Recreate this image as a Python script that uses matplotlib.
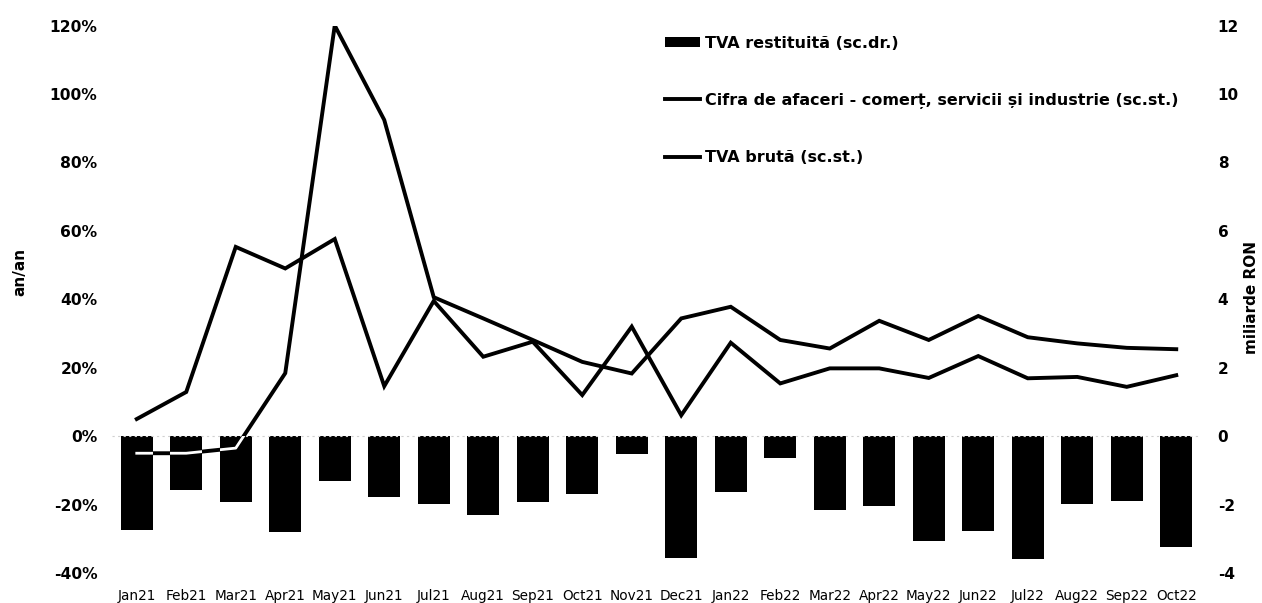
import numpy as np
import matplotlib.pyplot as plt
from matplotlib.lines import Line2D
from matplotlib.patches import Patch

# date
luni = ['Jan21', 'Feb21', 'Mar21', 'Apr21', 'May21', 'Jun21', 'Jul21', 'Aug21',
        'Sep21', 'Oct21', 'Nov21', 'Dec21', 'Jan22', 'Feb22', 'Mar22', 'Apr22',
        'May22', 'Jun22', 'Jul22', 'Aug22', 'Sep22', 'Oct22']
tva_restituita = [-2.75, -1.58, -1.93, -2.81, -1.32, -1.78, -1.99, -2.31, -1.92, -1.70, -0.53,
                  -3.57, -1.64, -0.65, -2.16, -2.04, -3.07, -2.78, -3.58, -1.97, -1.89, -3.25]
cifra_afaceri = [5, 12.9, 55.3, 49, 57.6, 14.6, 39.5, 23.2, 27.6, 12.0, 32.0,
                 6.1, 27.3, 15.4, 19.8, 19.8, 17.0, 23.4, 16.9, 17.3, 14.4, 17.8]
tva_bruta = [-5, -5, -3.5, 18.4, 120, 92.4, 40.6, 34.4, 28.1, 21.7, 18.3,
             34.4, 37.8, 28.1, 25.6, 33.7, 28.1, 35.1, 28.9, 27.1, 25.8, 25.4]

stanga_ticks = [-40, -20, 0, 20, 40, 60, 80, 100, 120]
dreapta_ticks = [-4, -2, 0, 2, 4, 6, 8, 10, 12]

W, H = 1262, 603
fig = plt.figure(figsize=(W / 100, H / 100), dpi=100)
ax = fig.add_axes([112 / W, 1 - 573 / H, (1201 - 112) / W, (573 - 25.5) / H])
ax2 = ax.twinx()

x = np.arange(len(luni))

# bare - scala dreapta
bars = ax2.bar(x, tva_restituita, width=0.65, color='black', zorder=2)
ax2.set_ylim(-4, 12)
ax2.set_yticks(dreapta_ticks)
ax2.set_yticklabels([str(v) for v in dreapta_ticks], fontsize=11, fontweight='bold')

# linii - scala stanga
ax.set_zorder(ax2.get_zorder() + 1)
ax.patch.set_visible(False)
ax.axhline(0, color='#d0d0d0', lw=0.8, ls=(0, (2, 3)), zorder=1)
ax.plot(x, cifra_afaceri, color='black', lw=2.8, solid_joinstyle='miter', zorder=3)
ax.plot(x, tva_bruta, color='black', lw=2.8, solid_joinstyle='miter', zorder=3)
# partea liniei care trece prin bare apare alba
for b in bars[:3]:
    ln, = ax.plot(x, tva_bruta, color='white', lw=2.0, zorder=4)
    ln.set_clip_path(b)

ax.set_xlim(-0.5, len(luni) - 0.5)
ax.set_ylim(-40, 120)
ax.set_yticks(stanga_ticks)
ax.set_yticklabels([f'{v}%' for v in stanga_ticks], fontsize=11.2, fontweight='bold')
ax.set_xticks(x)
ax.set_xticklabels(luni, fontsize=9.8)

for a in (ax, ax2):
    for s in a.spines.values():
        s.set_visible(False)
ax.tick_params(axis='y', length=0, pad=10.5)
ax.tick_params(axis='x', length=0, pad=11.5)
ax2.tick_params(axis='y', length=0, pad=12)

fig.text(20 / W, 1 - 272 / H, 'an/an', rotation=90, ha='center', va='center',
         fontsize=11, fontweight='bold')
fig.text(1252 / W, 1 - 297 / H, 'miliarde RON', rotation=90, ha='center', va='center',
         fontsize=11, fontweight='bold')

handles = [Patch(facecolor='black'),
           Line2D([], [], color='black', lw=2.8),
           Line2D([], [], color='black', lw=2.8)]
labels = ['TVA restituită (sc.dr.)',
          'Cifra de afaceri - comerț, servicii și industrie (sc.st.)',
          'TVA brută (sc.st.)']
fig.legend(handles, labels, loc='upper left', bbox_to_anchor=(665 / W, 1 - 36 / H),
           frameon=False, prop=dict(weight='bold', size=11.5), handlelength=2.2,
           handleheight=0.6, handletextpad=0.3, labelspacing=2.6,
           borderaxespad=0, borderpad=0)

fig.savefig('out.png', dpi=100)
